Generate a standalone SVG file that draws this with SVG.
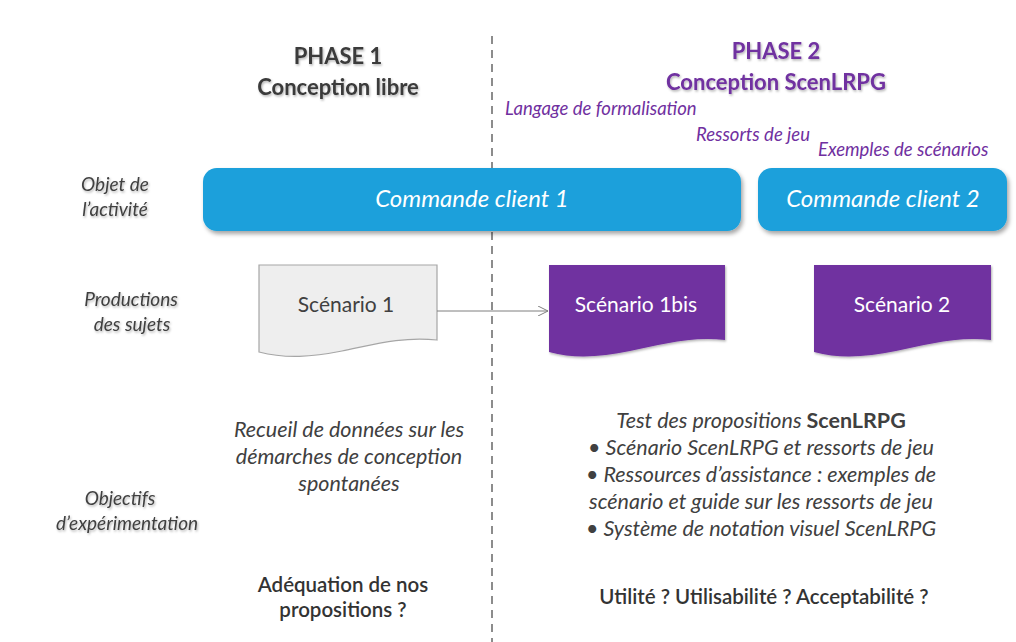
<svg xmlns="http://www.w3.org/2000/svg" width="1016" height="642" viewBox="0 0 1016 642">
<style>
text{font-family:Lato,"Liberation Sans",sans-serif}
.h1{font-size:22px;font-weight:bold;fill:#3a3a3a;text-anchor:middle}
.h2{font-size:22px;font-weight:bold;fill:#7030a0;text-anchor:middle}
.pl{font-size:18.5px;font-style:italic;fill:#7030a0}
.lbl{font-size:19px;font-style:italic;fill:#404040;text-anchor:middle}
.cmd{font-size:24px;font-style:italic;fill:#ffffff;text-anchor:middle}
.blue{fill:#1aa0db}
.doc1{fill:#eeeeee;stroke:#a6a6a6;stroke-width:1.2}
.docp{fill:#7030a0}
.sc1{font-size:21px;fill:#404040;text-anchor:middle}
.scw{font-size:21px;fill:#ffffff;text-anchor:middle}
.obj{font-size:21.5px;font-style:italic;fill:#404040;text-anchor:middle}
.q{font-size:20.5px;font-weight:600;fill:#333333;text-anchor:middle}
.sep{stroke:#8c8c8c;stroke-width:2;stroke-dasharray:8 6;fill:none}
.conn{stroke:#7f7f7f;stroke-width:1;fill:none}
</style>
<defs>
<filter id="sh" x="-10%" y="-20%" width="130%" height="160%">
<feDropShadow dx="2" dy="3" stdDeviation="2" flood-color="#000" flood-opacity="0.35"/>
</filter>
<filter id="tsh" x="-10%" y="-30%" width="120%" height="160%">
<feDropShadow dx="1" dy="1.5" stdDeviation="1" flood-color="#000" flood-opacity="0.3"/>
</filter>
<marker id="arr" viewBox="0 0 10 10" refX="10" refY="5" markerWidth="10" markerHeight="10" markerUnits="userSpaceOnUse" orient="auto">
<path d="M0,0 L10,5 L0,10" fill="none" stroke="#7f7f7f" stroke-width="1"/>
</marker>
</defs>
<rect width="1016" height="642" fill="#ffffff"/>

<g id="separator">
<line class="sep" x1="492" y1="36" x2="492" y2="642"/>
</g>

<g id="phase1-title" filter="url(#tsh)">
<text class="h1" x="338" y="64">PHASE  1</text>
<text class="h1" x="338" y="95">Conception libre</text>
</g>
<g id="phase2-title" filter="url(#tsh)">
<text class="h2" x="776" y="59">PHASE  2</text>
<text class="h2" x="776" y="90">Conception ScenLRPG</text>
</g>
<g id="phase2-labels">
<text class="pl" x="505" y="115">Langage de formalisation</text>
<text class="pl" x="696" y="141">Ressorts de jeu</text>
<text class="pl" x="818" y="156">Exemples de scénarios</text>
</g>

<g id="row-labels" filter="url(#tsh)">
<text class="lbl" x="115" y="191" font-size="20">Objet de</text>
<text class="lbl" x="115" y="216" font-size="20">l’activité</text>
<text class="lbl" x="131" y="306">Productions</text>
<text class="lbl" x="132" y="331">des sujets</text>
<text class="lbl" x="120" y="505">Objectifs</text>
<text class="lbl" x="127" y="530">d’expérimentation</text>
</g>

<g id="commande1">
<rect class="blue" x="203" y="168" width="538" height="63" rx="14" filter="url(#sh)"/>
<text class="cmd" x="472" y="207">Commande client 1</text>
</g>
<g id="commande2">
<rect class="blue" x="758" y="168" width="249" height="63" rx="14" filter="url(#sh)"/>
<text class="cmd" x="883" y="207">Commande client 2</text>
</g>

<g id="scenario1">
<path class="doc1" d="M259,265 H437 V340 C402,336 372,345 342,351 C312,357 286,359 259,352 Z"/>
<text class="sc1" x="346" y="312">Scénario 1</text>
</g>
<g id="scenario1bis">
<path class="docp" d="M549,265 H725 V340 C690,336 660,345 630,351 C600,357 575,359 549,352 Z" filter="url(#tsh)"/>
<text class="scw" x="636" y="312">Scénario 1bis</text>
</g>
<g id="scenario2">
<path class="docp" d="M814,265 H991 V340 C956,336 926,345 896,351 C866,357 840,359 814,352 Z" filter="url(#tsh)"/>
<text class="scw" x="902" y="312">Scénario 2</text>
</g>

<g id="connectors">
<line class="conn" x1="437" y1="311" x2="548" y2="311" marker-end="url(#arr)"/>
</g>

<g id="objectif1">
<text class="obj" x="349" y="437">Recueil de données sur les</text>
<text class="obj" x="349" y="464">démarches de conception</text>
<text class="obj" x="349" y="491">spontanées</text>
</g>
<g id="objectif2">
<text class="obj" x="761" y="428">Test des propositions <tspan font-style="normal" font-weight="bold">ScenLRPG</tspan></text>
<text class="obj" x="761" y="455">• Scénario ScenLRPG et ressorts de jeu</text>
<text class="obj" x="761" y="482">• Ressources d’assistance : exemples de</text>
<text class="obj" x="761" y="509">scénario et guide sur les ressorts de jeu</text>
<text class="obj" x="761" y="536">• Système de notation visuel ScenLRPG</text>
</g>
<g id="question1">
<text class="q" x="343" y="592">Adéquation de nos</text>
<text class="q" x="343" y="617">propositions ?</text>
</g>
<g id="question2">
<text class="q" x="764" y="604">Utilité ? Utilisabilité ? Acceptabilité ?</text>
</g>
</svg>
